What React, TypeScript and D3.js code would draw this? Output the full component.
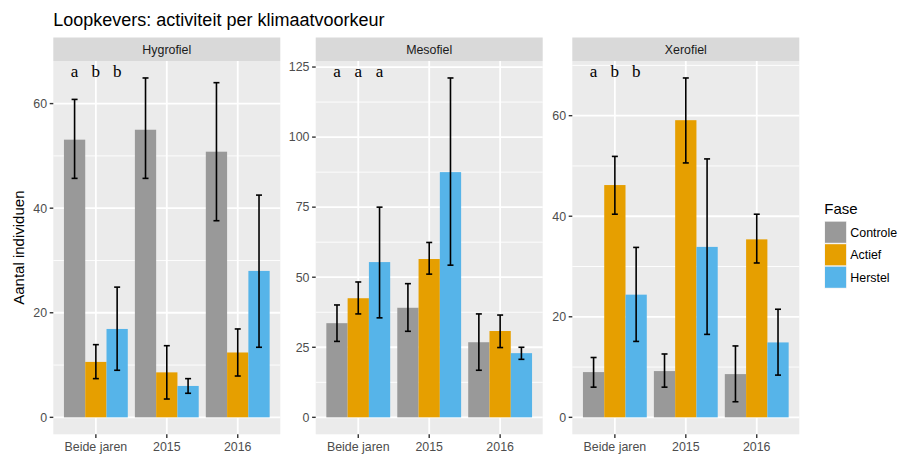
import React from "react";
import * as d3 from "d3";

// Facets, x categories and fill groups
const panels = ["Hygrofiel", "Mesofiel", "Xerofiel"];
const periods = ["Beide jaren", "2015", "2016"];
const phases = ["Controle", "Actief", "Herstel"];
const phaseColors = ["#999999", "#E69F00", "#56B4E9"];

// Mean counts: [period][phase]
const hygroMean = [[53.1, 10.6, 16.9], [55.0, 8.6, 6.0], [50.8, 12.4, 28.0]];
const hygroLow = [[45.7, 7.4, 9.0], [45.7, 3.5, 4.6], [37.6, 7.9, 13.4]];
const hygroHigh = [[60.8, 13.9, 24.9], [64.9, 13.7, 7.4], [64.0, 16.9, 42.5]];

const mesoMean = [[33.6, 42.5, 55.4], [39.1, 56.5, 87.5], [26.8, 30.8, 22.9]];
const mesoLow = [[27.1, 36.9, 35.5], [30.7, 51.1, 54.3], [16.8, 24.9, 20.7]];
const mesoHigh = [[40.1, 48.3, 75.0], [47.7, 62.4, 121.1], [36.9, 36.5, 25.0]];

const xeroMean = [[9.0, 46.2, 24.4], [9.2, 59.1, 33.9], [8.6, 35.4, 14.9]];
const xeroLow = [[6.0, 40.4, 15.1], [6.0, 50.6, 16.5], [3.1, 30.7, 8.4]];
const xeroHigh = [[11.9, 51.9, 33.8], [12.6, 67.5, 51.4], [14.2, 40.4, 21.5]];

const panelMeans = [hygroMean, mesoMean, xeroMean];
const panelLows = [hygroLow, mesoLow, xeroLow];
const panelHighs = [hygroHigh, mesoHigh, xeroHigh];

// Significance letters for the "Beide jaren" group
const panelLetters = [["a", "b", "b"], ["a", "a", "a"], ["a", "b", "b"]];

// Major y breaks per facet
const panelTicks = [[0, 20, 40, 60], [0, 25, 50, 75, 100, 125], [0, 20, 40, 60]];

const W = 900;
const H = 455;
const panelLefts = [53.3, 315.7, 572.3];
const panelWidth = 227;
const stripTop = 37.5;
const panelTop = 61;
const panelBottom = 434.3;

const sans = "'Liberation Sans', Arial, Helvetica, sans-serif";
const tickLen = 3.6;
const smallFont = 12.4;

function Panel({ idx }: { idx: number }) {
  const left = panelLefts[idx];
  const right = left + panelWidth;
  const means = panelMeans[idx];
  const lows = panelLows[idx];
  const highs = panelHighs[idx];
  const ticks = panelTicks[idx];

  const maxVal = d3.max(highs.flat()) as number;
  const y = d3
    .scaleLinear()
    .domain([-0.05 * maxVal, 1.05 * maxVal])
    .range([panelBottom, panelTop]);

  const x = d3.scalePoint<string>().domain(periods).range([left, right]).padding(0.6);
  const step = x.step();
  const dodge = d3
    .scaleBand<string>()
    .domain(phases)
    .range([-0.45 * step, 0.45 * step])
    .padding(0);
  const bw = dodge.bandwidth();

  // minor breaks: midpoints between majors, extended by one step on each side
  const tstep = ticks[1] - ticks[0];
  const minors: number[] = [];
  const [d0, d1] = y.domain();
  for (let v = ticks[0] - tstep / 2; v <= ticks[ticks.length - 1] + tstep; v += tstep) {
    if (v >= d0 && v <= d1) minors.push(v);
  }

  return (
    <g>
      {/* strip */}
      <rect x={left} y={stripTop} width={panelWidth} height={panelTop - stripTop} fill="#d9d9d9" />
      <text
        x={(left + right) / 2}
        y={(stripTop + panelTop) / 2}
        dy="0.35em"
        textAnchor="middle"
        fontFamily={sans}
        fontSize={smallFont}
        fill="#1a1a1a"
      >
        {panels[idx]}
      </text>

      {/* panel background and grid */}
      <rect x={left} y={panelTop} width={panelWidth} height={panelBottom - panelTop} fill="#ebebeb" />
      {minors.map((v) => (
        <line key={"mn" + v} x1={left} x2={right} y1={y(v)} y2={y(v)} stroke="#ffffff" strokeWidth={0.9} />
      ))}
      {ticks.map((v) => (
        <line key={"mj" + v} x1={left} x2={right} y1={y(v)} y2={y(v)} stroke="#ffffff" strokeWidth={1.8} />
      ))}
      {periods.map((p) => (
        <line key={"vx" + p} x1={x(p)} x2={x(p)} y1={panelTop} y2={panelBottom} stroke="#ffffff" strokeWidth={1.8} />
      ))}

      {/* bars */}
      {periods.map((p, i) =>
        phases.map((f, j) => (
          <rect
            key={"b" + p + f}
            x={(x(p) as number) + (dodge(f) as number)}
            y={y(means[i][j])}
            width={bw}
            height={y(0) - y(means[i][j])}
            fill={phaseColors[j]}
          />
        ))
      )}

      {/* error bars */}
      {periods.map((p, i) =>
        phases.map((f, j) => {
          const cx = (x(p) as number) + (dodge(f) as number) + bw / 2;
          const cap = 3;
          return (
            <g key={"e" + p + f} stroke="#000000" strokeWidth={1.6}>
              <line x1={cx} x2={cx} y1={y(lows[i][j])} y2={y(highs[i][j])} />
              <line x1={cx - cap} x2={cx + cap} y1={y(lows[i][j])} y2={y(lows[i][j])} />
              <line x1={cx - cap} x2={cx + cap} y1={y(highs[i][j])} y2={y(highs[i][j])} />
            </g>
          );
        })
      )}

      {/* letters */}
      {phases.map((f, j) => (
        <text
          key={"l" + f}
          x={(x(periods[0]) as number) + (dodge(f) as number) + bw / 2}
          y={panelTop + 16}
          textAnchor="middle"
          fontFamily="'Liberation Serif', 'Times New Roman', serif"
          fontSize={17}
          fill="#000000"
        >
          {panelLetters[idx][j]}
        </text>
      ))}

      {/* y axis */}
      {ticks.map((v) => (
        <g key={"yt" + v}>
          <line x1={left - tickLen} x2={left} y1={y(v)} y2={y(v)} stroke="#333333" strokeWidth={1.4} />
          <text
            x={left - tickLen - 2.6}
            y={y(v)}
            dy="0.35em"
            textAnchor="end"
            fontFamily={sans}
            fontSize={smallFont}
            fill="#4d4d4d"
          >
            {v}
          </text>
        </g>
      ))}

      {/* x axis */}
      {periods.map((p) => (
        <g key={"xt" + p}>
          <line x1={x(p)} x2={x(p)} y1={panelBottom} y2={panelBottom + tickLen} stroke="#333333" strokeWidth={1.4} />
          <text
            x={x(p)}
            y={450.5}
            textAnchor="middle"
            fontFamily={sans}
            fontSize={smallFont}
            fill="#4d4d4d"
          >
            {p}
          </text>
        </g>
      ))}
    </g>
  );
}

export default function App() {
  const keyX = 824.3;
  const keyTop = 221;
  const keySize = 22.5;
  return (
    <svg
      width={W}
      height={H}
      viewBox={`0 0 ${W} ${H}`}
      style={{ display: "block", position: "absolute", left: 0, top: 0 }}
    >
      <rect x={0} y={0} width={W} height={H} fill="#ffffff" />
      <text x={53.3} y={25.5} fontFamily={sans} fontSize={18} fill="#000000">
        Loopkevers: activiteit per klimaatvoorkeur
      </text>
      <text
        transform={`translate(19,${(panelTop + panelBottom) / 2}) rotate(-90)`}
        textAnchor="middle"
        dy="0.35em"
        fontFamily={sans}
        fontSize={15}
        fill="#000000"
      >
        Aantal individuen
      </text>
      {panels.map((p, i) => (
        <Panel key={p} idx={i} />
      ))}

      {/* legend */}
      <text x={keyX} y={214} fontFamily={sans} fontSize={15} fill="#000000">
        Fase
      </text>
      {phases.map((f, j) => (
        <g key={"lg" + f}>
          <rect x={keyX} y={keyTop + j * keySize} width={keySize} height={keySize} fill="#f2f2f2" />
          <rect
            x={keyX + 0.7}
            y={keyTop + j * keySize + 0.7}
            width={keySize - 1.4}
            height={keySize - 1.4}
            fill={phaseColors[j]}
          />
          <text
            x={keyX + keySize + 3.5}
            y={keyTop + j * keySize + keySize / 2}
            dy="0.35em"
            fontFamily={sans}
            fontSize={smallFont}
            fill="#000000"
          >
            {f}
          </text>
        </g>
      ))}
    </svg>
  );
}
